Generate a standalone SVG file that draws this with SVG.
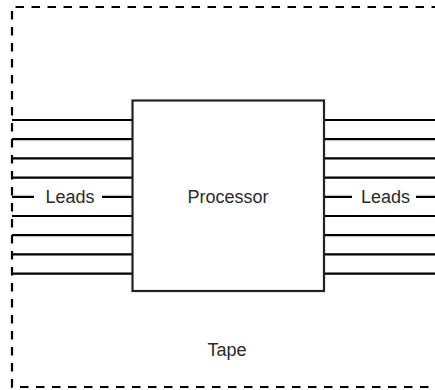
<svg xmlns="http://www.w3.org/2000/svg" width="435" height="390" viewBox="0 0 435 390">
<style>
.tape{fill:none;stroke:#000;stroke-width:2.2;stroke-dasharray:8.5 7.5}
.lead{stroke:#000;stroke-width:2.2;fill:none}
.box{fill:#fff;stroke:#222;stroke-width:2.2}
text{font-family:"Liberation Sans",Arial,sans-serif;font-size:18px;fill:#2a2a2a;text-anchor:middle}
</style>
<rect width="435" height="390" fill="#fff"/>
<g id="tape">
<path class="tape" d="M440 7 H12 V387 H440"/>
<text x="227" y="355.5">Tape</text>
</g>
<g id="connectors">
<path class="lead" d="M12 120H132M12 139.2H132M12 158.4H132M12 177.6H132M12 196.8H34M102 196.8H132M12 216H132M12 235.2H132M12 254.4H132M12 273.6H132"/>
<path class="lead" d="M324 120H435M324 139.2H435M324 158.4H435M324 177.6H435M324 196.8H352M416 196.8H435M324 216H435M324 235.2H435M324 254.4H435M324 273.6H435"/>
</g>
<g id="leads-left"><text x="70" y="202.5">Leads</text></g>
<g id="leads-right"><text x="385.5" y="202.5">Leads</text></g>
<g id="processor">
<rect class="box" x="132.5" y="100.5" width="191.5" height="190.5"/>
<text x="228" y="202.5">Processor</text>
</g>
</svg>
